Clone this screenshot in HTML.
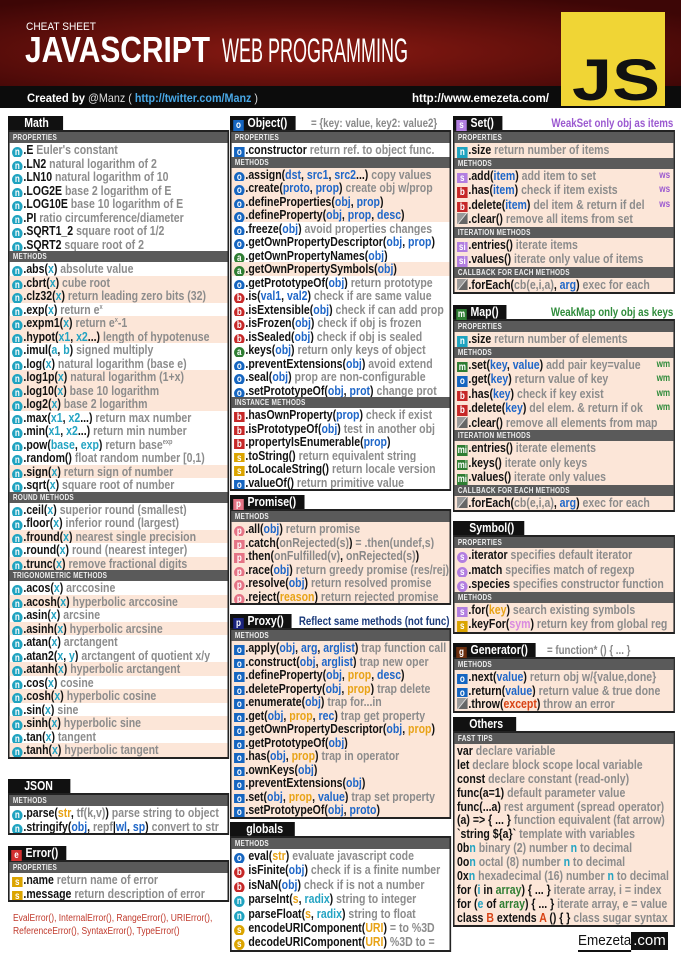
<!DOCTYPE html>
<html><head><meta charset="utf-8"><style>
*{margin:0;padding:0;box-sizing:border-box}
body{width:681px;height:960px;background:#fff;position:relative;overflow:hidden;font-family:"Liberation Sans",sans-serif}
.box{position:absolute;transform:scaleX(.81);transform-origin:0 0;font-weight:bold;font-size:13px;color:#111}
.hd{height:14px;position:relative;white-space:nowrap}
.tab{display:inline-block;height:14px;line-height:14px;background:#111;color:#fff;font-size:13px;padding:0 10px 0 4px;vertical-align:top}
.note{position:absolute;right:2px;top:0;line-height:14px;font-size:12px}
.bd{border:2px solid #222;background:#fff}
.bar{background:#5a5a5a;color:#eee;font-size:8px;height:11px;line-height:11px;padding-left:4px;letter-spacing:.3px}
.r{height:13.5px;line-height:13.5px;padding-left:3px;white-space:nowrap;overflow:hidden}
.p{background:#fce6d8}
.bd.pk .r{background:#fce6d8}
.r s{text-decoration:none;color:#8c8c8c}
.r i{font-style:normal;color:#1e66c8}
.m .r i,.js .r i{color:#23a3c2}
.r i.y{color:#e8a317}.r i.rd{color:#d84315}.r i.pu{color:#d98ae0}.r i.g{color:#888}
sup{font-size:7px;line-height:0;vertical-align:5px}
q{quotes:none;display:inline-block;width:13px;height:11px;line-height:11px;text-align:center;color:#fff;font-size:10px;margin-right:1px;vertical-align:-1px}
q.c{border-radius:50%}
q.n{background:#1fa3c0}q.o{background:#1565c0}q.b{background:#c62828}q.s{background:#dba400}q.a{background:#2e7d32}q.p{background:#e57385}q.S{background:#b27ee0}q.g{background:#6b2e0e}q.e{background:#d32f2f}
q.x{background:linear-gradient(135deg,#999 45%,#eee 50%,#666 55%)}
.tag{float:right;margin-right:4px;font-size:10px}
.c3 .r{height:14.5px;line-height:14.5px}
.ot .r{height:13.9px;line-height:13.9px}
.gl .r{height:14.4px;line-height:14.4px}
</style></head><body>

<svg width="681" height="112" style="position:absolute;left:0;top:0">
<defs><radialGradient id="rg" cx="0.45" cy="0.6" r="0.7"><stop offset="0" stop-color="#8a1a12"/><stop offset="1" stop-color="#3d0606"/></radialGradient></defs>
<rect width="681" height="86" fill="url(#rg)"/>
<rect y="86" width="681" height="22" fill="#0c0c0c"/>
<rect y="108" width="681" height="4" fill="#fff"/>
<text x="26" y="30" fill="#fff" font-size="11" font-family="Liberation Sans" textLength="70" lengthAdjust="spacingAndGlyphs">CHEAT SHEET</text>
<text x="25" y="62" fill="#fff" font-size="36" font-weight="bold" font-family="Liberation Sans" textLength="185" lengthAdjust="spacingAndGlyphs">JAVASCRIPT</text>
<text x="222" y="62" fill="#fff" font-size="34" font-family="Liberation Sans" textLength="186" lengthAdjust="spacingAndGlyphs">WEB PROGRAMMING</text>
<text x="27" y="102" fill="#fff" font-size="12" font-weight="bold" font-family="Liberation Sans" textLength="58" lengthAdjust="spacingAndGlyphs">Created by</text>
<text x="88" y="102" fill="#ddd" font-size="12" font-family="Liberation Sans" textLength="170" lengthAdjust="spacingAndGlyphs">@Manz ( <tspan fill="#49a8e6" font-weight="bold">http://twitter.com/Manz</tspan> )</text>
<text x="412" y="102" fill="#fff" font-size="12" font-weight="bold" font-family="Liberation Sans" textLength="137" lengthAdjust="spacingAndGlyphs">http://www.emezeta.com/</text>
<rect x="561" y="12" width="104" height="94" fill="#f0d535"/>
<text x="572" y="100" fill="#111" font-size="58" font-weight="bold" font-family="Liberation Sans" textLength="88" lengthAdjust="spacingAndGlyphs">JS</text>
</svg>

<!-- COLUMN 1 -->
<div class="box m" style="left:8px;top:116px;width:273px">
<div class="hd"><span class="tab" style="padding-left:20px;padding-right:18px">Math</span></div>
<div class="bd">
<div class="bar">PROPERTIES</div>
<div class="r"><q class="n c">n</q>.E <s>Euler's constant</s></div>
<div class="r"><q class="n c">n</q>.LN2 <s>natural logarithm of 2</s></div>
<div class="r"><q class="n c">n</q>.LN10 <s>natural logarithm of 10</s></div>
<div class="r"><q class="n c">n</q>.LOG2E <s>base 2 logarithm of E</s></div>
<div class="r"><q class="n c">n</q>.LOG10E <s>base 10 logarithm of E</s></div>
<div class="r"><q class="n c">n</q>.PI <s>ratio circumference/diameter</s></div>
<div class="r"><q class="n c">n</q>.SQRT1_2 <s>square root of 1/2</s></div>
<div class="r"><q class="n c">n</q>.SQRT2 <s>square root of 2</s></div>
<div class="bar">METHODS</div>
<div class="r"><q class="n c">n</q>.abs(<i>x</i>) <s>absolute value</s></div>
<div class="r p"><q class="n c">n</q>.cbrt(<i>x</i>) <s>cube root</s></div>
<div class="r p"><q class="n c">n</q>.clz32(<i>x</i>) <s>return leading zero bits (32)</s></div>
<div class="r"><q class="n c">n</q>.exp(<i>x</i>) <s>return e<sup>x</sup></s></div>
<div class="r p"><q class="n c">n</q>.expm1(<i>x</i>) <s>return e<sup>x</sup>-1</s></div>
<div class="r p"><q class="n c">n</q>.hypot(<i>x1</i>, <i>x2</i>...) <s>length of hypotenuse</s></div>
<div class="r"><q class="n c">n</q>.imul(<i>a</i>, <i>b</i>) <s>signed multiply</s></div>
<div class="r"><q class="n c">n</q>.log(<i>x</i>) <s>natural logarithm (base e)</s></div>
<div class="r p"><q class="n c">n</q>.log1p(<i>x</i>) <s>natural logarithm (1+x)</s></div>
<div class="r p"><q class="n c">n</q>.log10(<i>x</i>) <s>base 10 logarithm</s></div>
<div class="r p"><q class="n c">n</q>.log2(<i>x</i>) <s>base 2 logarithm</s></div>
<div class="r"><q class="n c">n</q>.max(<i>x1</i>, <i>x2</i>...) <s>return max number</s></div>
<div class="r"><q class="n c">n</q>.min(<i>x1</i>, <i>x2</i>...) <s>return min number</s></div>
<div class="r"><q class="n c">n</q>.pow(<i>base</i>, <i>exp</i>) <s>return base<sup>exp</sup></s></div>
<div class="r"><q class="n c">n</q>.random() <s>float random number [0,1)</s></div>
<div class="r p"><q class="n c">n</q>.sign(<i>x</i>) <s>return sign of number</s></div>
<div class="r"><q class="n c">n</q>.sqrt(<i>x</i>) <s>square root of number</s></div>
<div class="bar">ROUND METHODS</div>
<div class="r"><q class="n c">n</q>.ceil(<i>x</i>) <s>superior round (smallest)</s></div>
<div class="r"><q class="n c">n</q>.floor(<i>x</i>) <s>inferior round (largest)</s></div>
<div class="r p"><q class="n c">n</q>.fround(<i>x</i>) <s>nearest single precision</s></div>
<div class="r"><q class="n c">n</q>.round(<i>x</i>) <s>round (nearest integer)</s></div>
<div class="r p"><q class="n c">n</q>.trunc(<i>x</i>) <s>remove fractional digits</s></div>
<div class="bar">TRIGONOMETRIC METHODS</div>
<div class="r"><q class="n c">n</q>.acos(<i>x</i>) <s>arccosine</s></div>
<div class="r p"><q class="n c">n</q>.acosh(<i>x</i>) <s>hyperbolic arccosine</s></div>
<div class="r"><q class="n c">n</q>.asin(<i>x</i>) <s>arcsine</s></div>
<div class="r p"><q class="n c">n</q>.asinh(<i>x</i>) <s>hyperbolic arcsine</s></div>
<div class="r"><q class="n c">n</q>.atan(<i>x</i>) <s>arctangent</s></div>
<div class="r"><q class="n c">n</q>.atan2(<i>x</i>, <i>y</i>) <s>arctangent of quotient x/y</s></div>
<div class="r p"><q class="n c">n</q>.atanh(<i>x</i>) <s>hyperbolic arctangent</s></div>
<div class="r"><q class="n c">n</q>.cos(<i>x</i>) <s>cosine</s></div>
<div class="r p"><q class="n c">n</q>.cosh(<i>x</i>) <s>hyperbolic cosine</s></div>
<div class="r"><q class="n c">n</q>.sin(<i>x</i>) <s>sine</s></div>
<div class="r p"><q class="n c">n</q>.sinh(<i>x</i>) <s>hyperbolic sine</s></div>
<div class="r"><q class="n c">n</q>.tan(<i>x</i>) <s>tangent</s></div>
<div class="r p"><q class="n c">n</q>.tanh(<i>x</i>) <s>hyperbolic tangent</s></div>
</div></div>

<div class="box js" style="left:8px;top:779px;width:273px">
<div class="hd"><span class="tab" style="padding-left:20px;padding-right:22px">JSON</span></div>
<div class="bd">
<div class="bar">METHODS</div>
<div class="r"><q class="n c">n</q>.parse(<i class="y">str</i>, <i class="g">tf(k,v)</i>) <s>parse string to object</s></div>
<div class="r"><q class="n c">n</q>.stringify(<i style="color:#1e66c8">obj</i>, <i class="g">repf</i>|<i style="color:#1e66c8">wl</i>, <i style="color:#1e66c8">sp</i>) <s>convert to str</s></div>
</div></div>

<div class="box" style="left:8px;top:846px;width:273px">
<div class="hd"><span class="tab"><q class="e">e</q> Error()</span></div>
<div class="bd">
<div class="bar">PROPERTIES</div>
<div class="r"><q class="s">s</q>.name <s>return name of error</s></div>
<div class="r"><q class="s">s</q>.message <s>return description of error</s></div>
</div></div>
<div style="position:absolute;left:13px;top:912px;font-size:10px;color:#c0392b;line-height:13px;transform:scaleX(.85);transform-origin:0 0;white-space:nowrap">EvalError(), InternalError(), RangeError(), URIError(),<br>ReferenceError(), SyntaxError(), TypeError()</div>

<!-- COLUMN 2 -->
<div class="box" style="left:230px;top:116px;width:273px">
<div class="hd"><span class="tab"><q class="o">o</q> Object()</span><span class="note" style="left:100px;right:auto;color:#888">= {key: value, key2: value2}</span></div>
<div class="bd">
<div class="bar">PROPERTIES</div>
<div class="r"><q class="o">o</q>.constructor <s>return ref. to object func.</s></div>
<div class="bar">METHODS</div>
<div class="r p"><q class="o c">o</q>.assign(<i>dst</i>, <i>src1</i>, <i>src2</i>...) <s>copy values</s></div>
<div class="r p"><q class="o c">o</q>.create(<i>proto</i>, <i>prop</i>) <s>create obj w/prop</s></div>
<div class="r p"><q class="o c">o</q>.defineProperties(<i>obj</i>, <i>prop</i>)</div>
<div class="r p"><q class="o c">o</q>.defineProperty(<i>obj</i>, <i>prop</i>, <i>desc</i>)</div>
<div class="r"><q class="o c">o</q>.freeze(<i>obj</i>) <s>avoid properties changes</s></div>
<div class="r"><q class="o c">o</q>.getOwnPropertyDescriptor(<i>obj</i>, <i>prop</i>)</div>
<div class="r"><q class="a c">a</q>.getOwnPropertyNames(<i>obj</i>)</div>
<div class="r p"><q class="a c">a</q>.getOwnPropertySymbols(<i>obj</i>)</div>
<div class="r"><q class="o c">o</q>.getPrototypeOf(<i>obj</i>) <s>return prototype</s></div>
<div class="r"><q class="b c">b</q>.is(<i>val1</i>, <i>val2</i>) <s>check if are same value</s></div>
<div class="r"><q class="b c">b</q>.isExtensible(<i>obj</i>) <s>check if can add prop</s></div>
<div class="r"><q class="b c">b</q>.isFrozen(<i>obj</i>) <s>check if obj is frozen</s></div>
<div class="r"><q class="b c">b</q>.isSealed(<i>obj</i>) <s>check if obj is sealed</s></div>
<div class="r"><q class="a c">a</q>.keys(<i>obj</i>) <s>return only keys of object</s></div>
<div class="r"><q class="o c">o</q>.preventExtensions(<i>obj</i>) <s>avoid extend</s></div>
<div class="r"><q class="o c">o</q>.seal(<i>obj</i>) <s>prop are non-configurable</s></div>
<div class="r"><q class="o c">o</q>.setPrototypeOf(<i>obj</i>, <i>prot</i>) <s>change prot</s></div>
<div class="bar">INSTANCE METHODS</div>
<div class="r"><q class="b">b</q>.hasOwnProperty(<i>prop</i>) <s>check if exist</s></div>
<div class="r"><q class="b">b</q>.isPrototypeOf(<i>obj</i>) <s>test in another obj</s></div>
<div class="r"><q class="b">b</q>.propertyIsEnumerable(<i>prop</i>)</div>
<div class="r"><q class="s">s</q>.toString() <s>return equivalent string</s></div>
<div class="r"><q class="s">s</q>.toLocaleString() <s>return locale version</s></div>
<div class="r"><q class="o">o</q>.valueOf() <s>return primitive value</s></div>
</div></div>

<div class="box" style="left:230px;top:495px;width:273px">
<div class="hd"><span class="tab"><q class="p">p</q> Promise()</span></div>
<div class="bd pk">
<div class="bar">METHODS</div>
<div class="r"><q class="p c">p</q>.all(<i>obj</i>) <s>return promise</s></div>
<div class="r"><q class="p">p</q>.catch(<i class="g">onRejected(s)</i>) <s>= .then(undef,s)</s></div>
<div class="r"><q class="p">p</q>.then(<i class="g">onFulfilled(v)</i>, <i class="g">onRejected(s)</i>)</div>
<div class="r"><q class="p c">p</q>.race(<i>obj</i>) <s>return greedy promise (res/rej)</s></div>
<div class="r"><q class="p c">p</q>.resolve(<i>obj</i>) <s>return resolved promise</s></div>
<div class="r"><q class="p c">p</q>.reject(<i class="y">reason</i>) <s>return rejected promise</s></div>
</div></div>

<div class="box" style="left:230px;top:614px;width:273px">
<div class="hd"><span class="tab"><q class="o" style="background:#1a237e">p</q> Proxy()</span><span class="note" style="color:#1a3a7a">Reflect same methods (not func)</span></div>
<div class="bd pk">
<div class="bar">METHODS</div>
<div class="r"><q class="o">o</q>.apply(<i>obj</i>, <i>arg</i>, <i>arglist</i>) <s>trap function call</s></div>
<div class="r"><q class="o">o</q>.construct(<i>obj</i>, <i>arglist</i>) <s>trap new oper</s></div>
<div class="r"><q class="o">o</q>.defineProperty(<i>obj</i>, <i class="y">prop</i>, <i>desc</i>)</div>
<div class="r"><q class="o">o</q>.deleteProperty(<i>obj</i>, <i class="y">prop</i>) <s>trap delete</s></div>
<div class="r"><q class="o">o</q>.enumerate(<i>obj</i>) <s>trap for...in</s></div>
<div class="r"><q class="o">o</q>.get(<i>obj</i>, <i class="y">prop</i>, <i>rec</i>) <s>trap get property</s></div>
<div class="r"><q class="o">o</q>.getOwnPropertyDescriptor(<i>obj</i>, <i class="y">prop</i>)</div>
<div class="r"><q class="o">o</q>.getPrototypeOf(<i>obj</i>)</div>
<div class="r"><q class="o">o</q>.has(<i>obj</i>, <i class="y">prop</i>) <s>trap in operator</s></div>
<div class="r"><q class="o">o</q>.ownKeys(<i>obj</i>)</div>
<div class="r"><q class="o">o</q>.preventExtensions(<i>obj</i>)</div>
<div class="r"><q class="o">o</q>.set(<i>obj</i>, <i class="y">prop</i>, <i>value</i>) <s>trap set property</s></div>
<div class="r"><q class="o">o</q>.setPrototypeOf(<i>obj</i>, <i>proto</i>)</div>
</div></div>

<div class="box gl" style="left:230px;top:822px;width:273px">
<div class="hd"><span class="tab" style="padding-left:20px;padding-right:14px">globals</span></div>
<div class="bd">
<div class="bar">METHODS</div>
<div class="r"><q class="o c">o</q> eval(<i class="y">str</i>) <s>evaluate javascript code</s></div>
<div class="r"><q class="b c">b</q> isFinite(<i>obj</i>) <s>check if is a finite number</s></div>
<div class="r"><q class="b c">b</q> isNaN(<i>obj</i>) <s>check if is not a number</s></div>
<div class="r"><q class="n c">n</q> parseInt(<i class="y">s</i>, <i style="color:#23a3c2">radix</i>) <s>string to integer</s></div>
<div class="r"><q class="n c">n</q> parseFloat(<i class="y">s</i>, <i style="color:#23a3c2">radix</i>) <s>string to float</s></div>
<div class="r"><q class="s c">s</q> encodeURIComponent(<i class="y">URI</i>) <s>= to %3D</s></div>
<div class="r"><q class="s c">s</q> decodeURIComponent(<i class="y">URI</i>) <s>%3D to =</s></div>
</div></div>

<!-- COLUMN 3 -->
<div class="box c3" style="left:453px;top:116px;width:274px">
<div class="hd"><span class="tab"><q class="S">s</q> Set()</span><span class="note" style="color:#9b59d0">WeakSet only obj as items</span></div>
<div class="bd pk">
<div class="bar">PROPERTIES</div>
<div class="r"><q class="n">n</q>.size <s>return number of items</s></div>
<div class="bar">METHODS</div>
<div class="r"><q class="S">s</q>.add(<i>item</i>) <s>add item to set</s><span class="tag" style="color:#9b59d0">ws</span></div>
<div class="r"><q class="b">b</q>.has(<i>item</i>) <s>check if item exists</s><span class="tag" style="color:#9b59d0">ws</span></div>
<div class="r"><q class="b">b</q>.delete(<i>item</i>) <s>del item &amp; return if del</s><span class="tag" style="color:#9b59d0">ws</span></div>
<div class="r"><q class="x"></q>.clear() <s>remove all items from set</s></div>
<div class="bar">ITERATION METHODS</div>
<div class="r"><q class="S">si</q>.entries() <s>iterate items</s></div>
<div class="r"><q class="S">si</q>.values() <s>iterate only value of items</s></div>
<div class="bar">CALLBACK FOR EACH METHODS</div>
<div class="r"><q class="x"></q>.forEach(<i class="g">cb(e,i,a)</i>, <i>arg</i>) <s>exec for each</s></div>
</div></div>

<div class="box c3" style="left:453px;top:305px;width:274px">
<div class="hd"><span class="tab"><q class="a">m</q> Map()</span><span class="note" style="color:#2e8b3a">WeakMap only obj as keys</span></div>
<div class="bd pk">
<div class="bar">PROPERTIES</div>
<div class="r"><q class="n">n</q>.size <s>return number of elements</s></div>
<div class="bar">METHODS</div>
<div class="r"><q class="a">m</q>.set(<i>key</i>, <i>value</i>) <s>add pair key=value</s><span class="tag" style="color:#2e8b3a">wm</span></div>
<div class="r"><q class="o">o</q>.get(<i>key</i>) <s>return value of key</s><span class="tag" style="color:#2e8b3a">wm</span></div>
<div class="r"><q class="b">b</q>.has(<i>key</i>) <s>check if key exist</s><span class="tag" style="color:#2e8b3a">wm</span></div>
<div class="r"><q class="b">b</q>.delete(<i>key</i>) <s>del elem. &amp; return if ok</s><span class="tag" style="color:#2e8b3a">wm</span></div>
<div class="r"><q class="x"></q>.clear() <s>remove all elements from map</s></div>
<div class="bar">ITERATION METHODS</div>
<div class="r"><q class="a">mi</q>.entries() <s>iterate elements</s></div>
<div class="r"><q class="a">mi</q>.keys() <s>iterate only keys</s></div>
<div class="r"><q class="a">mi</q>.values() <s>iterate only values</s></div>
<div class="bar">CALLBACK FOR EACH METHODS</div>
<div class="r"><q class="x"></q>.forEach(<i class="g">cb(e,i,a)</i>, <i>arg</i>) <s>exec for each</s></div>
</div></div>

<div class="box c3" style="left:453px;top:521px;width:274px">
<div class="hd"><span class="tab" style="padding-left:20px;padding-right:12px">Symbol()</span></div>
<div class="bd pk">
<div class="bar">PROPERTIES</div>
<div class="r"><q class="S c">s</q>.iterator <s>specifies default iterator</s></div>
<div class="r"><q class="S c">s</q>.match <s>specifies match of regexp</s></div>
<div class="r"><q class="S c">s</q>.species <s>specifies constructor function</s></div>
<div class="bar">METHODS</div>
<div class="r"><q class="S">s</q>.for(<i class="y">key</i>) <s>search existing symbols</s></div>
<div class="r"><q class="s">s</q>.keyFor(<i class="pu">sym</i>) <s>return key from global reg</s></div>
</div></div>

<div class="box" style="left:453px;top:643px;width:274px">
<div class="hd"><span class="tab"><q class="g">g</q> Generator()</span><span class="note" style="left:116px;right:auto;color:#888">= function* () { ... }</span></div>
<div class="bd pk">
<div class="bar">METHODS</div>
<div class="r"><q class="o">o</q>.next(<i>value</i>) <s>return obj w/{value,done}</s></div>
<div class="r"><q class="o">o</q>.return(<i>value</i>) <s>return value &amp; true done</s></div>
<div class="r"><q class="x"></q>.throw(<i class="rd">except</i>) <s>throw an error</s></div>
</div></div>

<div class="box ot" style="left:453px;top:717px;width:274px">
<div class="hd"><span class="tab" style="padding-left:20px;padding-right:16px">Others</span></div>
<div class="bd pk">
<div class="bar">FAST TIPS</div>
<div class="r">var <s>declare variable</s></div>
<div class="r">let <s>declare block scope local variable</s></div>
<div class="r">const <s>declare constant (read-only)</s></div>
<div class="r">func(a=1) <s>default parameter value</s></div>
<div class="r">func(...a) <s>rest argument (spread operator)</s></div>
<div class="r">(a) =&gt; { ... } <s>function equivalent (fat arrow)</s></div>
<div class="r">`string ${a}` <s>template with variables</s></div>
<div class="r">0b<i style="color:#23a3c2">n</i> <s>binary (2) number <i style="color:#23a3c2">n</i> to decimal</s></div>
<div class="r">0o<i style="color:#23a3c2">n</i> <s>octal (8) number <i style="color:#23a3c2">n</i> to decimal</s></div>
<div class="r">0x<i style="color:#23a3c2">n</i> <s>hexadecimal (16) number <i style="color:#23a3c2">n</i> to decimal</s></div>
<div class="r">for (<i style="color:#23a3c2">i</i> in <i style="color:#2e7d32">array</i>) { ... } <s>iterate array, i = index</s></div>
<div class="r">for (<i style="color:#23a3c2">e</i> of <i style="color:#2e7d32">array</i>) { ... } <s>iterate array, e = value</s></div>
<div class="r">class <i class="rd">B</i> extends <i class="rd">A</i> () { } <s>class sugar syntax</s></div>
</div></div>

<div style="position:absolute;left:578px;top:932px;white-space:nowrap;font-size:15px;line-height:18px">
<span style="display:inline-block;border-bottom:2px solid #111;color:#111;transform:scaleX(.9);transform-origin:0 0">Emezeta</span><span style="display:inline-block;background:#111;color:#fff;padding:0 2px;margin-left:-6px">.com</span>
</div>

</body></html>
